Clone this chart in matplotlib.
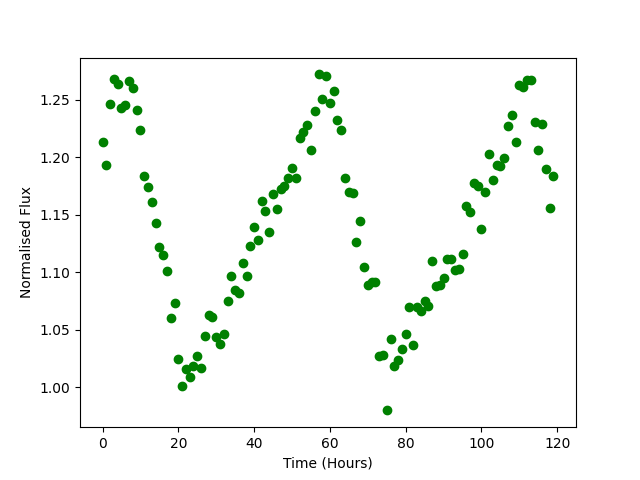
import matplotlib
matplotlib.use('Agg')
import matplotlib.pyplot as plt
import numpy as np

# hourly samples, 0..119
hours = np.arange(120)

flux = [
    1.213, 1.193, 1.246, 1.268, 1.264, 1.243, 1.245, 1.266, 1.260, 1.241,
    1.224, 1.184, 1.174, 1.161, 1.143, 1.122, 1.115, 1.101, 1.060, 1.073,
    1.025, 1.001, 1.016, 1.009, 1.019, 1.027, 1.017, 1.045, 1.063, 1.061,
    1.044, 1.038, 1.046, 1.075, 1.097, 1.085, 1.082, 1.108, 1.097, 1.123,
    1.139, 1.128, 1.162, 1.153, 1.135, 1.168, 1.155, 1.172, 1.175, 1.182,
    1.191, 1.182, 1.217, 1.222, 1.228, 1.206, 1.240, 1.272, 1.251, 1.271,
    1.247, 1.258, 1.232, 1.224, 1.182, 1.170, 1.169, 1.126, 1.145, 1.105,
    1.089, 1.092, 1.092, 1.027, 1.028, 0.980, 1.042, 1.019, 1.024, 1.033,
    1.046, 1.070, 1.037, 1.070, 1.066, 1.075, 1.071, 1.110, 1.088, 1.089,
    1.095, 1.112, 1.112, 1.102, 1.103, 1.116, 1.158, 1.152, 1.178, 1.175,
    1.138, 1.170, 1.203, 1.180, 1.193, 1.192, 1.199, 1.227, 1.237, 1.213,
    1.263, 1.261, 1.267, 1.267, 1.231, 1.206, 1.229, 1.190, 1.156, 1.184,
]

plt.figure(figsize=(6.4, 4.8), dpi=100)
plt.plot(hours, flux, 'o', color='green')
plt.xlabel('Time (Hours)')
plt.ylabel('Normalised Flux')
plt.savefig('out.png')
